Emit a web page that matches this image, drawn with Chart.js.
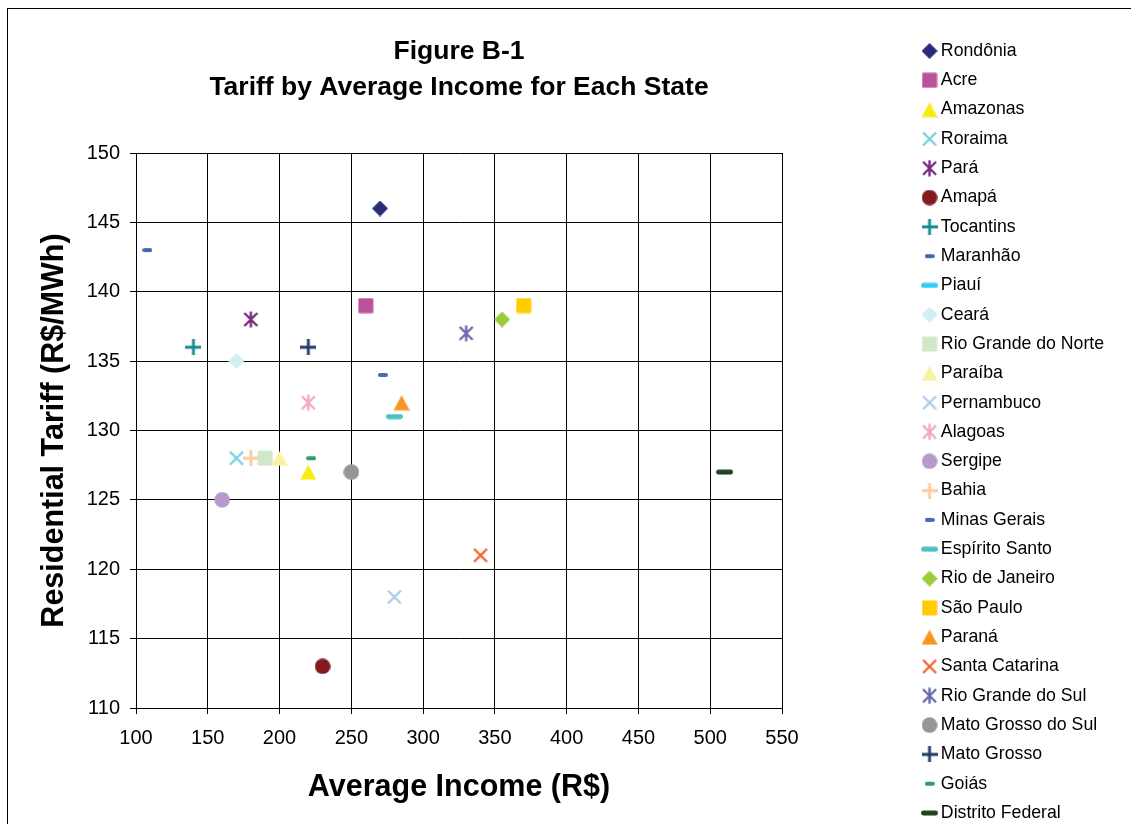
<!DOCTYPE html>
<html>
<head>
<meta charset="utf-8">
<script src="https://cdn.jsdelivr.net/npm/chart.js@4.4.1/dist/chart.umd.min.js"></script>
<style>
  html, body { margin: 0; padding: 0; background: #fff; overflow: hidden; width: 1131px; height: 824px; }
  #frame { position: absolute; left: 7px; top: 8px; width: 1300px; height: 1000px;
           border-left: 1px solid #000; border-top: 1px solid #000; }
  #c { position: absolute; left: 0; top: 0; }
</style>
</head>
<body>
<div id="frame"></div>
<canvas id="c" width="1131" height="880" style="width:1131px;height:880px"></canvas>
<script>
// Figure B-1: residential tariff against average income, one series per state
const chartTitle = ['Figure B-1', 'Tariff by Average Income for Each State'];
const xTitle = 'Average Income (R$)';
const yTitle = 'Residential Tariff (R$/MWh)';

const states = [
  'Rondônia', 'Acre', 'Amazonas', 'Roraima', 'Pará', 'Amapá', 'Tocantins',
  'Maranhão', 'Piauí', 'Ceará', 'Rio Grande do Norte', 'Paraíba', 'Pernambuco',
  'Alagoas', 'Sergipe', 'Bahia', 'Minas Gerais', 'Espírito Santo',
  'Rio de Janeiro', 'São Paulo', 'Paraná', 'Santa Catarina',
  'Rio Grande do Sul', 'Mato Grosso do Sul', 'Mato Grosso', 'Goiás',
  'Distrito Federal'
];
// Average income (R$); null where the state has no point
const avgIncome = [270, 260, 220, 170, 180, 230, 140, 108, null, 170, 190, 200, 280,
                   220, 160, 180, 272, 280, 355, 370, 285, 340, 330, 250, 220, 222, 510];
// Residential tariff (R$/MWh)
const tariff = [146, 139, 127, 128, 138, 113, 136, 143, null, 135, 128, 128, 118,
                132, 125, 128, 134, 131, 138, 139, 132, 121, 137, 127, 136, 128, 127];

const xTicks = { min: 100, max: 550, step: 50 };
const yTicks = { min: 110, max: 150, step: 5 };

// Marker shape and colour for each state, in the same order
const markerKinds = [
  'diamond', 'square', 'triangle', 'x', 'star', 'circle', 'plus',
  'dash', 'longdash', 'diamond', 'square', 'triangle', 'x',
  'star', 'circle', 'plus', 'dash', 'longdash',
  'diamond', 'square', 'triangle', 'x',
  'star', 'circle', 'plus', 'dash', 'longdash'
];
const markerColors = [
  '#2B2A7A', '#BA529E', '#F6EB13', '#6FCFE0', '#7A2A80', '#821A1E', '#168B8C',
  '#4367B3', '#33CCF2', '#D0EEF4', '#D0E8C8', '#F9F2A1', '#A8CCEE',
  '#F4A5C8', '#B69ACB', '#FCCB9C', '#4B6AB5', '#49C0C9',
  '#9ACB3B', '#FFCC00', '#F7951E', '#F15C24',
  '#6C6AAA', '#969696', '#1F396B', '#2F9C61', '#1F4323'
];

// Small canvases used as point styles, so markers look the same in plot and legend
function makeMarker(kind, color) {
  const c = document.createElement('canvas');
  const size = (w, h) => { c.width = w; c.height = h; };
  let g;
  const line = (pts, lw) => {
    g.strokeStyle = color; g.lineWidth = lw; g.lineCap = 'butt';
    g.beginPath();
    for (let i = 0; i < pts.length; i += 2) { g.moveTo(pts[i][0], pts[i][1]); g.lineTo(pts[i + 1][0], pts[i + 1][1]); }
    g.stroke();
  };
  const rounded = (x, y, w, h, r) => {
    g.fillStyle = color; g.beginPath();
    g.moveTo(x + r, y); g.lineTo(x + w - r, y); g.arcTo(x + w, y, x + w, y + r, r);
    g.lineTo(x + w, y + h - r); g.arcTo(x + w, y + h, x + w - r, y + h, r);
    g.lineTo(x + r, y + h); g.arcTo(x, y + h, x, y + h - r, r);
    g.lineTo(x, y + r); g.arcTo(x, y, x + r, y, r); g.closePath(); g.fill();
  };
  switch (kind) {
    case 'diamond':
      size(16, 16); g = c.getContext('2d'); g.fillStyle = color;
      g.beginPath(); g.moveTo(8, 0); g.lineTo(16, 8); g.lineTo(8, 16); g.lineTo(0, 8); g.closePath(); g.fill();
      break;
    case 'square':
      size(16, 16); g = c.getContext('2d');
      rounded(0.5, 0.5, 15, 15, 1.2);
      break;
    case 'triangle':
      size(16, 16); g = c.getContext('2d'); g.fillStyle = color;
      g.beginPath(); g.moveTo(8, 0.5); g.lineTo(16, 15.5); g.lineTo(0, 15.5); g.closePath(); g.fill();
      break;
    case 'circle':
      size(16, 16); g = c.getContext('2d'); g.fillStyle = color;
      g.beginPath(); g.arc(8, 8, 7.8, 0, Math.PI * 2); g.fill();
      break;
    case 'x':
      size(16, 16); g = c.getContext('2d');
      line([[1.5, 1.5], [14.5, 14.5], [14.5, 1.5], [1.5, 14.5]], 2.2);
      break;
    case 'star':
      size(17, 17); g = c.getContext('2d');
      line([[2, 2], [15, 15], [15, 2], [2, 15], [8.5, 0.5], [8.5, 16.5]], 2.4);
      break;
    case 'plus':
      size(16, 16); g = c.getContext('2d');
      line([[0, 8], [16, 8], [8, 0], [8, 16]], 2.8);
      break;
    case 'dash':
      size(10, 6); g = c.getContext('2d');
      rounded(0, 1, 10, 4, 2);
      break;
    case 'longdash':
      size(17, 6); g = c.getContext('2d');
      rounded(0, 0.5, 17, 5, 2.4);
      break;
  }
  return c;
}

const datasets = states.map((name, i) => ({
  label: name,
  data: (avgIncome[i] === null || tariff[i] === null) ? [] : [{ x: avgIncome[i], y: tariff[i] }],
  pointStyle: makeMarker(markerKinds[i], markerColors[i]),
  backgroundColor: markerColors[i],
  borderColor: markerColors[i],
  // later series are painted over earlier ones
  order: states.length - i
}));

const FONT = "'Liberation Sans', Arial, sans-serif";
const LEGEND_FONT_SIZE = 17.7;
const LEGEND_PAD = 11.61;
const LEGEND_BOX = 5;
const LEGEND_LEFT = 915.4;
const PLOT_RIGHT = 782;

// Right padding chosen so the legend column starts at LEGEND_LEFT
const measure = document.createElement('canvas').getContext('2d');
measure.font = LEGEND_FONT_SIZE + 'px ' + FONT;
const widestLabel = Math.max(...states.map(s => measure.measureText(s).width));
const legendWidth = LEGEND_PAD + LEGEND_BOX + LEGEND_FONT_SIZE / 2 + widestLabel + 10;
const PAD_RIGHT = Math.max(0, 1131 - LEGEND_LEFT - legendWidth);

new Chart(document.getElementById('c'), {
  type: 'scatter',
  data: { datasets },
  options: {
    responsive: false,
    devicePixelRatio: 1,
    animation: false,
    events: [],
    layout: { padding: { top: 30.5, left: 10, right: PAD_RIGHT, bottom: 44 } },
    plugins: {
      tooltip: { enabled: false },
      title: {
        display: true,
        fullSize: false,
        text: chartTitle,
        color: '#000',
        font: { family: FONT, size: 26.5, weight: 'bold', lineHeight: 36 / 26.5 },
        padding: { top: 3.5, bottom: 47 }
      },
      legend: {
        position: 'right',
        align: 'start',
        labels: {
          usePointStyle: true,
          boxWidth: LEGEND_BOX,
          padding: LEGEND_PAD,
          color: '#000',
          font: { family: FONT, size: LEGEND_FONT_SIZE },
          sort: (a, b) => a.datasetIndex - b.datasetIndex
        }
      }
    },
    scales: {
      x: {
        type: 'linear',
        position: 'bottom',
        min: xTicks.min, max: xTicks.max,
        ticks: { stepSize: xTicks.step, color: '#000', padding: 12, font: { family: FONT, size: 20 } },
        grid: { color: '#000', lineWidth: 1, tickLength: 6 },
        border: { color: '#000', width: 1 },
        title: {
          display: true, text: xTitle, color: '#000',
          font: { family: FONT, size: 30.5, weight: 'bold' },
          padding: { top: 0, bottom: 29.7 }
        },
        afterFit: (s) => { s.height = 128; }
      },
      y: {
        type: 'linear',
        position: 'left',
        min: yTicks.min, max: yTicks.max,
        ticks: { stepSize: yTicks.step, color: '#000', padding: 10, font: { family: FONT, size: 20 } },
        grid: { color: '#000', lineWidth: 1, tickLength: 6 },
        border: { color: '#000', width: 1 },
        title: {
          display: true, text: yTitle, color: '#000',
          font: { family: FONT, size: 30.5, weight: 'bold' },
          padding: { top: 26.7, bottom: 0 }
        },
        afterFit: (s) => { s.width = 126; }
      },
      // hidden right-hand axis that keeps the gap between plot and legend
      gap: {
        type: 'linear',
        position: 'right',
        display: false,
        afterFit: (s) => {
          const lw = s.chart.legend ? s.chart.legend.width : 0;
          s.width = Math.max(0, s.chart.width - PAD_RIGHT - lw - PLOT_RIGHT);
        }
      }
    }
  }
});
</script>
</body>
</html>
